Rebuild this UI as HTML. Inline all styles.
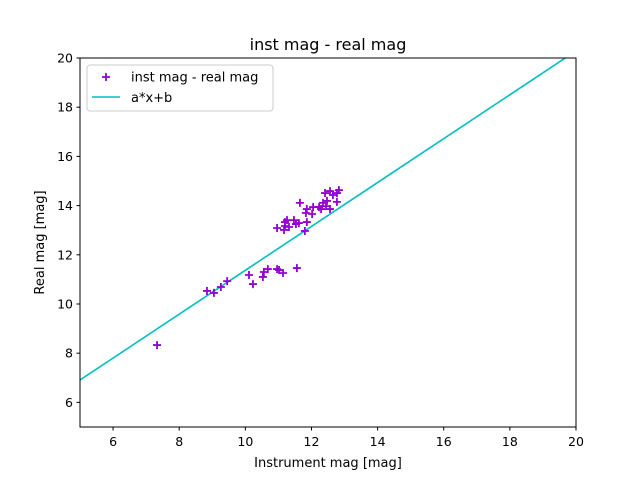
<!DOCTYPE html>
<html><head><meta charset="utf-8"><style>body{margin:0;background:#fff}svg{display:block;font-family:"DejaVu Sans","Liberation Sans",sans-serif}</style></head>
<body>
<svg id="chart" width="640" height="480" viewBox="0 0 640 480" xmlns="http://www.w3.org/2000/svg">
<rect width="640" height="480" fill="#fff"/>
<text x="328" y="50" font-size="16" text-anchor="middle">inst mag - real mag</text>
<g id="plot"></g>
<rect x="80" y="58" width="496" height="369" fill="none" stroke="#000" stroke-width="1"/>
<g id="ticks"></g>
<text x="328" y="467" font-size="13" text-anchor="middle">Instrument mag [mag]</text>
<text transform="translate(44,242.5) rotate(-90)" font-size="13" text-anchor="middle">Real mag [mag]</text>
<g>
<rect x="87" y="65" width="186" height="46" rx="3" fill="#fff" fill-opacity="0.8" stroke="#ccc"/>
<g><path d="M102 77h8M106 73v8" stroke="#9400d3" stroke-width="1.8"/><text x="131" y="81.5" font-size="13">inst mag - real mag</text></g>
<g><path d="M92 97h28" stroke="#00bfbf" stroke-width="1.6"/><text x="131" y="102" font-size="13">a*x+b</text></g>
</g>
</svg>
<script>
const xData=[7.33,8.84,9.05,9.26,9.45,10.11,10.23,10.53,10.56,10.68,10.96,11.02,11.14,11.56,10.96,11.17,11.20,11.26,11.20,11.32,11.47,11.53,11.62,11.86,11.80,11.65,11.83,11.86,12.02,12.05,12.23,12.29,12.35,12.44,12.47,12.56,12.41,12.56,12.65,12.77,12.83,12.77];
const yData=[8.33,10.53,10.45,10.69,10.93,11.18,10.81,11.10,11.30,11.42,11.42,11.38,11.26,11.46,13.09,13.01,13.17,13.41,13.33,13.13,13.41,13.25,13.29,13.33,12.97,14.11,13.70,13.86,13.66,13.94,13.94,13.86,14.11,13.98,14.19,13.86,14.51,14.59,14.43,14.51,14.63,14.15];
const fitA=0.892, fitB=2.45;
const xTicks=[6,8,10,12,14,16,18,20];
const yTicks=[6,8,10,12,14,16,18,20];
const xMin=5,xMax=20,yMin=5,yMax=20;
const X=v=>80+(v-xMin)/(xMax-xMin)*496;
const Y=v=>427-(v-yMin)/(yMax-yMin)*369;
const NS="http://www.w3.org/2000/svg";
const plot=document.getElementById('plot'), ticks=document.getElementById('ticks');
function mk(tag,attrs,parent){const e=document.createElementNS(NS,tag);for(const k in attrs)e.setAttribute(k,attrs[k]);parent.appendChild(e);return e;}
const clip=mk('clipPath',{id:'c'},plot);mk('rect',{x:80,y:58,width:496,height:369},clip);
const line=mk('line',{x1:X(xMin),y1:Y(fitA*xMin+fitB),x2:X(xMax),y2:Y(fitA*xMax+fitB),stroke:'#00bfbf','stroke-width':1.6,'clip-path':'url(#c)'},plot);


xData.forEach((xv,i)=>{const px=X(xv),py=Y(yData[i]);
const p=mk('path',{d:`M${px-4} ${py}h8M${px} ${py-4}v8`,stroke:'#9400d3','stroke-width':1.8},plot);

});
xTicks.forEach(t=>{const g=mk('g',{},ticks);


mk('line',{x1:X(t),x2:X(t),y1:427,y2:430.5,stroke:'#000'},g);
const tx=mk('text',{x:X(t),y:446,'font-size':12.5,'text-anchor':'middle'},g);tx.textContent=t;});
yTicks.forEach(t=>{const g=mk('g',{},ticks);


mk('line',{x1:76.5,x2:80,y1:Y(t),y2:Y(t),stroke:'#000'},g);
const tx=mk('text',{x:73,y:Y(t)+4.5,'font-size':12.5,'text-anchor':'end'},g);tx.textContent=t;});
</script>
</body></html>
